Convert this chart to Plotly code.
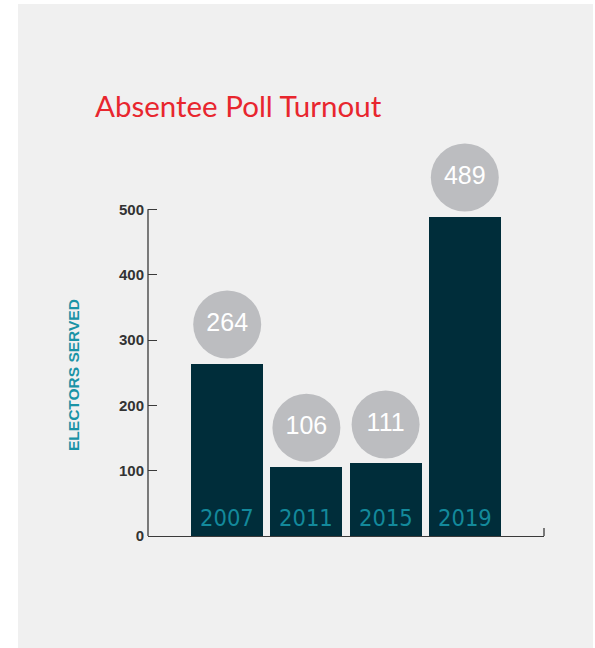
import plotly.graph_objects as go

years = ["2007", "2011", "2015", "2019"]
voters = [264, 106, 111, 489]
y_ticks = [0, 100, 200, 300, 400, 500]

title_text = "Absentee Poll Turnout"
y_title = "ELECTORS SERVED"

BAR = "#002d3a"
TEAL = "#13899b"
CIRCLE = "#bcbdc0"
BG = "#f0f0f0"
AXIS = "#3a3a3a"
NARROW = "DejaVu Sans Condensed, Liberation Sans, Arial, sans-serif"
SANS = "Liberation Sans, Arial, Helvetica, sans-serif"

W, H = 595, 648
L, R, T, B = 148, 51, 144, 112
YMAX = 600
px_per_unit = (H - T - B) / YMAX
circle_offset = 39 / px_per_unit

fig = go.Figure()
fig.add_trace(go.Bar(
    x=years, y=voters, width=0.91, marker=dict(color=BAR, line=dict(width=0)),
    hoverinfo="skip", showlegend=False,
))
fig.add_trace(go.Scatter(
    x=years, y=[v + circle_offset for v in voters], mode="markers+text",
    text=[str(v) for v in voters], textposition="middle center",
    textfont=dict(family=SANS, size=25, color="white"),
    marker=dict(size=68, color=CIRCLE, line=dict(width=0)),
    cliponaxis=False, hoverinfo="skip", showlegend=False,
))

for i, yr in enumerate(years):
    fig.add_annotation(x=i, y=0, xref="x", yref="y", text=yr, showarrow=False,
                       yanchor="bottom", yshift=2,
                       font=dict(family=NARROW, size=23.5, color=TEAL, weight=500))

pw = W - L - R
ph = H - T - B

fig.add_annotation(xref="paper", yref="paper", x=(93 - L) / pw, y=(H - B - 118) / ph,
                   xanchor="left", yanchor="bottom", yshift=-7, text=title_text, showarrow=False,
                   font=dict(family="Lato, sans-serif", size=29.5, color="#e8262e", weight=400))
fig.add_annotation(xref="paper", yref="paper", x=(73 - L) / pw, y=(H - B - 375) / ph,
                   xanchor="center", yanchor="middle", textangle=-90, text=y_title, showarrow=False,
                   font=dict(family=SANS, size=15.5, color="#1a93a6", weight="bold"))

# background panel
fig.add_shape(type="rect", xref="paper", yref="paper", layer="below",
              x0=(18 - L) / pw, x1=(593 - L) / pw, y0=(H - B - 648) / ph, y1=(H - B - 4) / ph,
              fillcolor=BG, line=dict(width=0))
# y axis line (0..500)
fig.add_shape(type="line", xref="paper", yref="y", x0=0, x1=0, y0=0, y1=500,
              line=dict(color=AXIS, width=1.3))
# right end tick of x axis
fig.add_shape(type="line", xref="paper", yref="paper", x0=1, x1=1, y0=0, y1=8 / ph,
              line=dict(color=AXIS, width=1.3))

fig.update_layout(
    width=W, height=H, margin=dict(l=L, r=R, t=T, b=B),
    paper_bgcolor="white", plot_bgcolor="rgba(0,0,0,0)",
    bargap=0,
    xaxis=dict(type="category", range=[-1, 4], showticklabels=False, ticks="",
               showgrid=False, zeroline=False, showline=True, linecolor=AXIS, linewidth=1.3,
               fixedrange=True),
    yaxis=dict(range=[0, YMAX], tickvals=y_ticks, ticks="inside", ticklen=9, tickwidth=1.3,
               tickcolor=AXIS, showgrid=False, zeroline=False, showline=False,
               tickfont=dict(family=SANS, size=15, color="#333333", weight="bold"),
               ticklabelstandoff=3, fixedrange=True),
)

fig.write_html("out.html", config={"displayModeBar": False},
               post_script="document.body.style.margin='0';")
